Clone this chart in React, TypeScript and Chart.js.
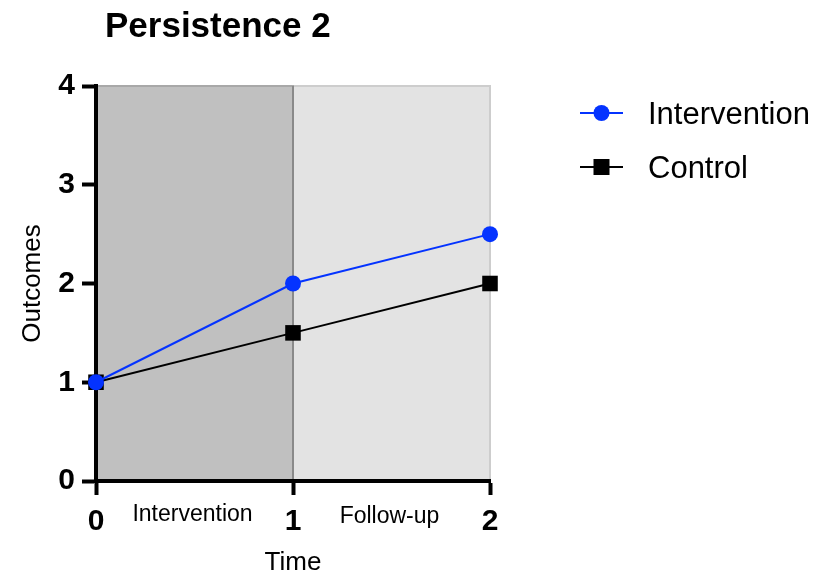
import React, { useEffect, useRef } from "react";
import { Chart, registerables } from "chart.js";

Chart.register(...registerables);

const chartTitle = "Persistence 2";
const timePoints = [0, 1, 2];
const interventionValues = [1, 2, 2.5];
const controlValues = [1, 1.5, 2];
const seriesLabels = ["Intervention", "Control"];
const phaseLabels = ["Intervention", "Follow-up"];
const phaseBounds = [
  [0, 1],
  [1, 2],
];
const xAxisTitle = "Time";
const yAxisTitle = "Outcomes";

const FONT = "Arial, 'Liberation Sans', Helvetica, sans-serif";
const BLUE = "#0433ff";
const BLACK = "#000000";

const decorPlugin = {
  id: "decor",
  beforeDraw(chart: any) {
    const { ctx, chartArea, scales } = chart;
    const x = scales.x;
    const top = chartArea.top;
    const bottom = chartArea.bottom;
    ctx.save();
    const l1 = x.getPixelForValue(phaseBounds[1][0]);
    const r1 = x.getPixelForValue(phaseBounds[1][1]);
    ctx.fillStyle = "#e3e3e3";
    ctx.fillRect(l1, top, r1 - l1, bottom - top);
    ctx.strokeStyle = "#cdcdcd";
    ctx.lineWidth = 2;
    ctx.strokeRect(l1, top, r1 - l1, bottom - top);
    const l0 = x.getPixelForValue(phaseBounds[0][0]);
    const r0 = x.getPixelForValue(phaseBounds[0][1]);
    ctx.fillStyle = "#c0c0c0";
    ctx.fillRect(l0, top, r0 - l0, bottom - top);
    ctx.strokeStyle = "#a8a8a8";
    ctx.lineWidth = 2;
    ctx.strokeRect(l0, top, r0 - l0, bottom - top);
    ctx.strokeStyle = "#8a8a8a";
    ctx.beginPath();
    ctx.moveTo(r0, top);
    ctx.lineTo(r0, bottom);
    ctx.stroke();
    ctx.restore();
  },
  afterDraw(chart: any) {
    const { ctx, chartArea, scales } = chart;
    const x = scales.x;
    ctx.save();
    ctx.fillStyle = BLACK;
    ctx.font = `bold 35px ${FONT}`;
    ctx.textAlign = "left";
    ctx.textBaseline = "alphabetic";
    ctx.fillText(chartTitle, 105, 37);

    ctx.font = `23px ${FONT}`;
    ctx.textAlign = "center";
    const phaseBaselines = [521, 523];
    phaseBounds.forEach((b, i) => {
      const cx = (x.getPixelForValue(b[0]) + x.getPixelForValue(b[1])) / 2;
      ctx.fillText(phaseLabels[i], cx - 2, phaseBaselines[i]);
    });

    ctx.font = `26px ${FONT}`;
    ctx.textAlign = "center";
    ctx.fillText(xAxisTitle, (chartArea.left + chartArea.right) / 2, 570);
    ctx.save();
    ctx.translate(33, (chartArea.top + chartArea.bottom) / 2);
    ctx.rotate(-Math.PI / 2);
    ctx.textBaseline = "middle";
    ctx.fillText(yAxisTitle, 0, 0);
    ctx.restore();

    const ds = chart.data.datasets;
    const rows = [113, 167];
    ds.forEach((d: any, i: number) => {
      const y = rows[i];
      ctx.strokeStyle = d.borderColor;
      ctx.lineWidth = 2;
      ctx.beginPath();
      ctx.moveTo(580, y);
      ctx.lineTo(623, y);
      ctx.stroke();
      ctx.fillStyle = d.backgroundColor;
      if (d.pointStyle === "circle") {
        ctx.beginPath();
        ctx.arc(601.5, y, 8, 0, Math.PI * 2);
        ctx.fill();
      } else {
        ctx.fillRect(601.5 - 8, y - 8, 16, 16);
      }
      ctx.fillStyle = BLACK;
      ctx.font = `31px ${FONT}`;
      ctx.textAlign = "left";
      ctx.textBaseline = "alphabetic";
      ctx.fillText(d.label, 648, y + 11);
    });
    ctx.restore();
  },
};

export default function App() {
  const canvasRef = useRef<HTMLCanvasElement | null>(null);

  useEffect(() => {
    if (!canvasRef.current) return;
    const chart = new Chart(canvasRef.current, {
      type: "line",
      data: {
        datasets: [
          {
            label: seriesLabels[0],
            data: timePoints.map((t, i) => ({ x: t, y: interventionValues[i] })),
            borderColor: BLUE,
            backgroundColor: BLUE,
            pointStyle: "circle",
            pointRadius: 8,
            pointBorderWidth: 0,
            borderWidth: 2,
            tension: 0,
            clip: false as any,
          },
          {
            label: seriesLabels[1],
            data: timePoints.map((t, i) => ({ x: t, y: controlValues[i] })),
            borderColor: BLACK,
            backgroundColor: BLACK,
            pointStyle: "rect",
            pointRadius: 11,
            pointBorderWidth: 0,
            borderWidth: 2,
            tension: 0,
            clip: false as any,
          },
        ],
      },
      options: {
        responsive: false,
        animation: false,
        layout: { padding: { top: 86, right: 335, left: 0, bottom: 0 } },
        plugins: {
          legend: { display: false },
          title: { display: false },
          tooltip: { enabled: false },
        },
        scales: {
          x: {
            type: "linear",
            min: 0,
            max: 2,
            afterFit: (s: any) => {
              s.height = 102;
            },
            ticks: {
              stepSize: 1,
              color: BLACK,
              padding: 9,
              font: { family: FONT, size: 30, weight: "bold" },
            },
            grid: {
              drawOnChartArea: false,
              drawTicks: true,
              tickLength: 14,
              tickWidth: 4,
              tickColor: BLACK,
            },
            border: { display: true, color: BLACK, width: 4 },
          },
          y: {
            type: "linear",
            min: 0,
            max: 4,
            afterFit: (s: any) => {
              s.width = 96;
            },
            ticks: {
              stepSize: 1,
              color: BLACK,
              padding: 7,
              font: { family: FONT, size: 30, weight: "bold" },
            },
            grid: {
              drawOnChartArea: false,
              drawTicks: true,
              tickLength: 14,
              tickWidth: 4,
              tickColor: BLACK,
            },
            border: { display: true, color: BLACK, width: 4 },
          },
        },
      },
      plugins: [decorPlugin],
    });
    return () => chart.destroy();
  }, []);

  return (
    <div style={{ position: "absolute", left: 0, top: 0, width: 825, height: 583 }}>
      <canvas ref={canvasRef} width={825} height={583} />
    </div>
  );
}
